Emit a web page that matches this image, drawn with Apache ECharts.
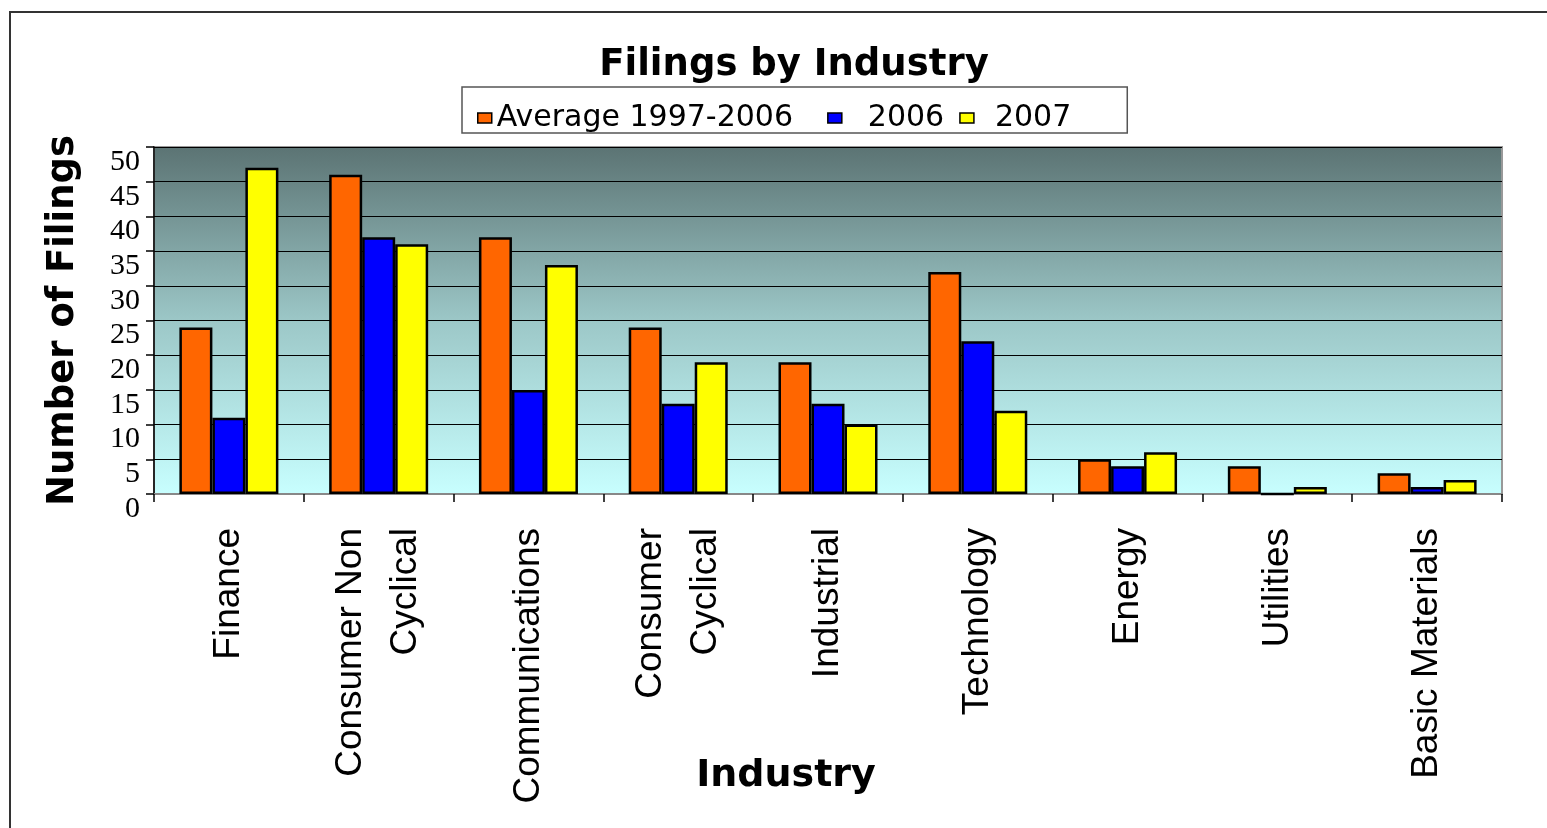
<!DOCTYPE html>
<html>
<head>
<meta charset="utf-8">
<script src="https://cdn.jsdelivr.net/npm/echarts@6/dist/echarts.min.js"></script>
<style>
  html, body { margin: 0; padding: 0; background: #fff; }
  #main { width: 1547px; height: 828px; }
</style>
</head>
<body>
<div id="main"></div>
<script>
// 行业分类
var industries = ['Finance', 'Consumer Non\nCyclical', 'Communications', 'Consumer\nCyclical',
    'Industrial', 'Technology', 'Energy', 'Utilities', 'Basic Materials'];
var seriesNames = ['Average 1997-2006', '2006', '2007'];
var avgData = [24, 46, 37, 24, 19, 32, 5, 4, 3];
var data2006 = [11, 37, 15, 13, 13, 22, 4, 0, 1];
var data2007 = [47, 36, 33, 19, 10, 12, 6, 1, 2];
var yTicks = [0, 50, 5]; // min, max, interval

var myChart = echarts.init(document.getElementById('main'));

function barSeries(name, color, data) {
    return {
        name: name,
        type: 'bar',
        barWidth: 33,
        barGap: '0%',
        itemStyle: {
            color: color,
            borderColor: '#000',
            borderWidth: 2.5
        },
        data: data
    };
}

var option = {
    animation: false,
    title: {
        text: 'Filings by Industry',
        left: 789,
        textAlign: 'center',
        top: 42,
        textStyle: {
            fontFamily: 'DejaVu Sans',
            fontWeight: 'bold',
            fontSize: 37,
            color: '#000'
        }
    },
    legend: {
        left: 462,
        top: 87,
        padding: [16, 56, 0, 15],
        backgroundColor: '#fff',
        borderColor: '#555',
        borderWidth: 1.5,
        borderRadius: 0,
        itemWidth: 14,
        itemHeight: 10,
        itemGap: 15,
        icon: 'rect',
        selectedMode: false,
        itemStyle: { borderColor: '#000', borderWidth: 1.5 },
        formatter: function (name) {
            return name === seriesNames[0] ? name + '  ' : name;
        },
        textStyle: {
            fontFamily: 'DejaVu Sans',
            fontSize: 30,
            color: '#000'
        },
        data: [
            { name: seriesNames[0] },
            { name: seriesNames[1], textStyle: { padding: [0, 0, 0, 21] } },
            { name: seriesNames[2], textStyle: { padding: [0, 0, 0, 16] } }
        ]
    },
    graphic: [{
        type: 'rect',
        shape: { x: 10, y: 12, width: 1700, height: 1000 },
        style: { fill: null, stroke: '#333', lineWidth: 2 },
        silent: true
    }],
    grid: {
        left: 154,
        right: 45,
        top: 147,
        bottom: 334,
        outerBoundsMode: 'none',
        show: true,
        borderColor: '#999',
        borderWidth: 2,
        backgroundColor: new echarts.graphic.LinearGradient(0, 0, 0, 1, [
            { offset: 0, color: '#5b7373' },
            { offset: 0.5, color: '#9cc7c7' },
            { offset: 1, color: '#c8ffff' }
        ])
    },
    xAxis: {
        type: 'category',
        data: industries,
        name: 'Industry',
        nameLocation: 'middle',
        nameGap: 263,
        nameMoveOverlap: false,
        nameTextStyle: {
            fontFamily: 'DejaVu Sans',
            fontWeight: 'bold',
            fontSize: 38,
            color: '#000',
            verticalAlign: 'top',
            padding: [0, 84, 0, 0]
        },
        axisLine: { lineStyle: { color: '#888', width: 2 } },
        axisTick: { show: true, length: 8, lineStyle: { color: '#000', width: 1.5 } },
        axisLabel: {
            interval: 0,
            rotate: 90,
            margin: 34,
            fontFamily: 'Liberation Sans',
            fontSize: 37,
            lineHeight: 55,
            color: '#000'
        }
    },
    yAxis: {
        type: 'value',
        min: yTicks[0],
        max: yTicks[1],
        interval: yTicks[2],
        name: 'Number of Filings',
        nameLocation: 'middle',
        nameGap: 72,
        nameMoveOverlap: false,
        nameTextStyle: {
            fontFamily: 'DejaVu Sans',
            fontWeight: 'bold',
            fontSize: 37,
            color: '#000'
        },
        axisLine: { show: true, lineStyle: { color: '#000', width: 1.5 } },
        axisTick: { show: true, length: 8, lineStyle: { color: '#000', width: 1.5 } },
        splitLine: { show: true, lineStyle: { color: '#000', width: 1.2 } },
        axisLabel: {
            margin: 14,
            verticalAlign: 'top',
            fontFamily: 'Liberation Serif',
            fontSize: 30,
            color: '#000'
        }
    },
    series: [
        barSeries(seriesNames[0], '#ff6600', avgData),
        barSeries(seriesNames[1], '#0000ff', data2006),
        barSeries(seriesNames[2], '#ffff00', data2007)
    ]
};

myChart.setOption(option);
</script>
</body>
</html>
